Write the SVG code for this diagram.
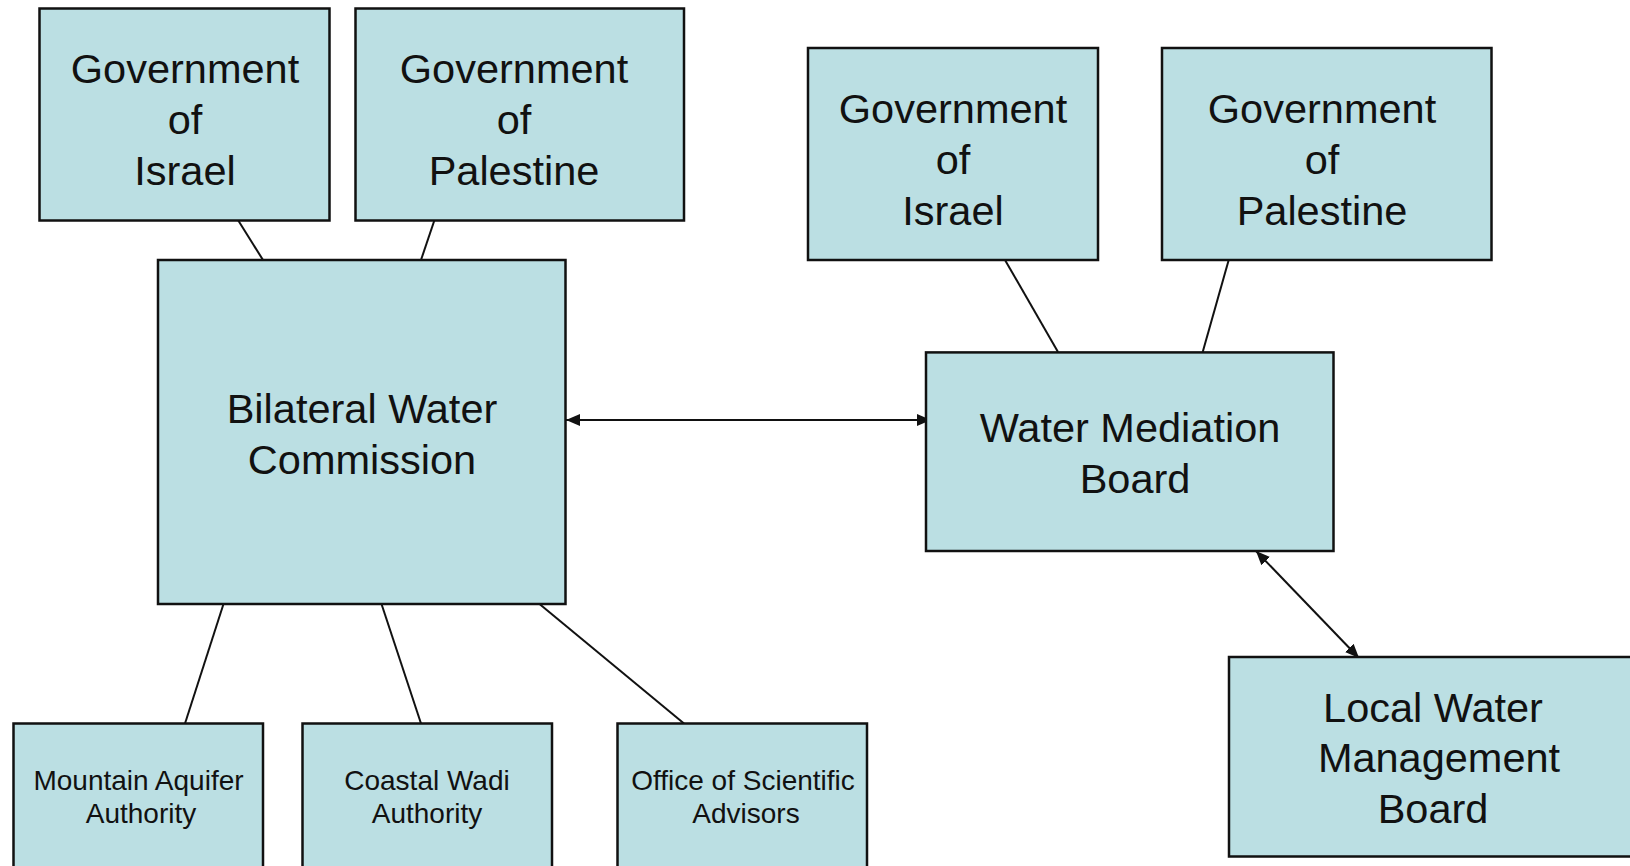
<svg xmlns="http://www.w3.org/2000/svg" width="1630" height="866" viewBox="0 0 1630 866">
<style>
.box{fill:#bbdfe3;stroke:#111;stroke-width:2.5}
.t{font-family:"Liberation Sans",Arial,sans-serif;font-size:41.5px;fill:#111;text-anchor:middle}
.s{font-family:"Liberation Sans",Arial,sans-serif;font-size:28px;fill:#111;text-anchor:middle}
.c{stroke:#111;stroke-width:2;fill:none}
</style>
<defs>
<marker id="ah" markerUnits="userSpaceOnUse" markerWidth="16" markerHeight="14" refX="14" refY="6" orient="auto-start-reverse">
<path d="M0,0 L14,6 L0,12 z" fill="#111"/>
</marker>
</defs>
<rect width="1630" height="866" fill="#fff"/>
<g id="connectors">
<line class="c" x1="238" y1="220" x2="263" y2="260"/>
<line class="c" x1="434.5" y1="220" x2="421" y2="260"/>
<line class="c" x1="1005" y1="260" x2="1058" y2="352"/>
<line class="c" x1="1228.7" y1="260" x2="1202.7" y2="352"/>
<line class="c" x1="223.5" y1="604" x2="185" y2="723.5"/>
<line class="c" x1="381.5" y1="604" x2="421" y2="723.5"/>
<line class="c" x1="539.5" y1="604" x2="684" y2="723.5"/>
<line class="c" x1="566" y1="420" x2="931" y2="420" marker-start="url(#ah)" marker-end="url(#ah)"/>
<line class="c" x1="1256" y1="551" x2="1359" y2="658" marker-start="url(#ah)" marker-end="url(#ah)"/>
</g>
<g id="gov-israel-1">
<rect class="box" x="39.5" y="8.5" width="290" height="212"/>
<text class="t" x="185" y="83.3">Government</text>
<text class="t" x="185" y="134.3">of</text>
<text class="t" x="185" y="185.3">Israel</text>
</g>
<g id="gov-palestine-1">
<rect class="box" x="355.5" y="8.5" width="328.5" height="212"/>
<text class="t" x="514" y="83.3">Government</text>
<text class="t" x="514" y="134.3">of</text>
<text class="t" x="514" y="185.3">Palestine</text>
</g>
<g id="bilateral">
<rect class="box" x="158" y="260" width="407.5" height="344"/>
<text class="t" x="362" y="423">Bilateral Water</text>
<text class="t" x="362" y="474">Commission</text>
</g>
<g id="gov-israel-2">
<rect class="box" x="808" y="48" width="290" height="212"/>
<text class="t" x="953" y="123">Government</text>
<text class="t" x="953" y="174">of</text>
<text class="t" x="953" y="225">Israel</text>
</g>
<g id="gov-palestine-2">
<rect class="box" x="1162" y="48" width="329.5" height="212"/>
<text class="t" x="1322" y="123">Government</text>
<text class="t" x="1322" y="174">of</text>
<text class="t" x="1322" y="225">Palestine</text>
</g>
<g id="water-mediation">
<rect class="box" x="926" y="352.4" width="407.5" height="198.6"/>
<text class="t" x="1130" y="442">Water Mediation</text>
<text class="t" x="1135" y="493">Board</text>
</g>
<g id="local-water">
<rect class="box" x="1229" y="657" width="420" height="199.5"/>
<text class="t" x="1433" y="722">Local Water</text>
<text class="t" x="1439" y="772">Management</text>
<text class="t" x="1433" y="823">Board</text>
</g>
<g id="mountain-aquifer">
<rect class="box" x="13.5" y="723.5" width="249.5" height="160"/>
<text class="s" x="138.5" y="790">Mountain Aquifer</text>
<text class="s" x="141" y="823">Authority</text>
</g>
<g id="coastal-wadi">
<rect class="box" x="302.5" y="723.5" width="249.5" height="160"/>
<text class="s" x="427" y="790">Coastal Wadi</text>
<text class="s" x="427" y="823">Authority</text>
</g>
<g id="scientific-advisors">
<rect class="box" x="617.5" y="723.5" width="249.5" height="160"/>
<text class="s" x="743" y="790">Office of Scientific</text>
<text class="s" x="746" y="823">Advisors</text>
</g>
</svg>
